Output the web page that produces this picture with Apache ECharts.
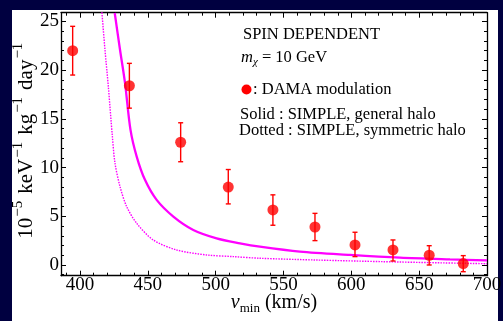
<!DOCTYPE html>
<html>
<head>
<meta charset="utf-8">
<script src="https://cdn.jsdelivr.net/npm/echarts@6/dist/echarts.min.js"></script>
<style>html,body{margin:0;padding:0;background:#000040;}#c{width:503px;height:321px;}</style>
</head>
<body>
<div id="c"></div>
<script>
// DAMA modulation points
const damaV = [394.6, 436.4, 474.2, 509.3, 542.2, 573.2, 602.7, 630.7, 657.4, 682.5];
const damaRate = [22.0, 18.4, 12.6, 8.0, 5.65, 3.9, 2.06, 1.54, 1.0, 0.15];
const damaHi = [24.5, 20.7, 14.6, 9.8, 7.2, 5.3, 3.36, 2.57, 1.98, 0.96];
const damaLo = [19.5, 16.1, 10.6, 6.27, 4.08, 2.5, 0.86, 0.41, 0.0, -0.69];

// SIMPLE, general halo (solid)
const solidV = [425.6, 429.5, 433.2, 437.2, 441.8, 447.9, 456.5, 468.8, 483.5, 500.7, 517.9, 532.6, 562.1, 599, 635.8, 672.7, 700];
const solidRate = [25.87, 22.1, 18.67, 13.9, 11.13, 8.74, 6.68, 4.97, 3.6, 2.74, 2.23, 1.88, 1.37, 1.03, 0.75, 0.58, 0.48];

// SIMPLE, symmetric halo (dotted)
const dotV = [416, 418.4, 420.9, 423.8, 425.8, 429.5, 434.4, 441.8, 454, 471.3, 493.4, 513, 532.6, 574.4, 623.5, 700];
const dotRate = [26.2, 22.1, 18.3, 13.3, 10.45, 8.05, 6.0, 4.28, 2.57, 1.54, 1.03, 0.86, 0.69, 0.51, 0.34, 0.13];

// ticks
const xMajor = [400, 450, 500, 550, 600, 650, 700];
const xMinor = [390, 400, 410, 420, 430, 440, 450, 460, 470, 480, 490, 500, 510, 520, 530, 540, 550, 560, 570, 580, 590, 600, 610, 620, 630, 640, 650, 660, 670, 680, 690, 700];
const yMajor = [0, 5, 10, 15, 20, 25];
const yMinor = [-1, 0, 1, 2, 3, 4, 5, 6, 7, 8, 9, 10, 11, 12, 13, 14, 15, 16, 17, 18, 19, 20, 21, 22, 23, 24, 25];

const FONT = "'Liberation Serif', 'Times New Roman', serif";
const X_MIN = 386, X_MAX = 700, Y_MIN = -1.1, Y_MAX = 25.9;

const chart = echarts.init(document.getElementById('c'), null, {renderer: 'canvas'});

function xAx(pos, values, len, showLine, showLabel) {
  return {
    type: 'value', position: pos, min: X_MIN, max: X_MAX, gridIndex: 0,
    axisLine: {show: showLine, onZero: false, lineStyle: {color: '#000', width: 1.3}},
    axisTick: {show: true, inside: true, length: len, customValues: values, lineStyle: {color: '#000', width: 1}},
    axisLabel: {show: showLabel, customValues: values, color: '#000', fontFamily: FONT, fontSize: 19, margin: 0, hideOverlap: false},
    splitLine: {show: false}
  };
}
function yAx(pos, values, len, showLine, showLabel) {
  return {
    type: 'value', position: pos, min: Y_MIN, max: Y_MAX, gridIndex: 0,
    axisLine: {show: showLine, onZero: false, lineStyle: {color: '#000', width: 1.3}},
    axisTick: {show: true, inside: true, length: len, customValues: values, lineStyle: {color: '#000', width: 1}},
    axisLabel: {show: showLabel, customValues: values, color: '#000', fontFamily: FONT, fontSize: 19, margin: 2, hideOverlap: false},
    splitLine: {show: false}
  };
}

const xMain = xAx('bottom', xMajor, 5, true, true);
xMain.name = '{v|v}{sub|min}{n| (km/s)}';
xMain.nameLocation = 'middle';
xMain.nameGap = 15;
xMain.nameMoveOverlap = false;
xMain.nameTextStyle = {
  color: '#000', fontFamily: FONT, fontSize: 20,
  rich: {
    v: {fontFamily: FONT, fontSize: 20, fontStyle: 'italic', lineHeight: 24, color: '#000'},
    sub: {fontFamily: FONT, fontSize: 13, lineHeight: 12, verticalAlign: 'bottom', color: '#000'},
    n: {fontFamily: FONT, fontSize: 20, lineHeight: 24, color: '#000'}
  }
};

const yMain = yAx('left', yMajor, 5, true, true);
yMain.name = '{a|10}{s|−5}{a|keV}{s|−1}{a|kg}{s|−1}{a|day}{s|−1}';
yMain.nameLocation = 'middle';
yMain.nameRotate = 90;
yMain.nameGap = 20;
yMain.nameMoveOverlap = false;
yMain.nameTextStyle = {
  color: '#000', fontFamily: FONT, fontSize: 21,
  rich: {
    a: {fontFamily: FONT, fontSize: 21, lineHeight: 30, color: '#000', padding: [0, 0, 0, 7]},
    s: {fontFamily: FONT, fontSize: 15, lineHeight: 14, verticalAlign: 'top', color: '#000', padding: [0, 0, 0, 1]}
  }
};

const errData = damaV.map((v, i) => [v, damaLo[i], damaHi[i]]);

const option = {
  backgroundColor: '#000040',
  animation: false,
  grid: {left: 61, right: 16, top: 12.7, bottom: 45.3, containLabel: false, outerBoundsMode: 'none'},
  xAxis: [
    xMain,
    xAx('bottom', xMinor, 3, false, false),
    xAx('top', xMajor, 5, true, false),
    xAx('top', xMinor, 3, false, false)
  ],
  yAxis: [
    yMain,
    yAx('left', yMinor, 3, false, false),
    yAx('right', yMajor, 5, true, false),
    yAx('right', yMinor, 3, false, false)
  ],
  graphic: [
    {type: 'rect', z: -10, silent: true, shape: {x: 12, y: 10, width: 486, height: 311}, style: {fill: '#ffffff'}},
    {type: 'text', x: 243, y: 35, style: {text: 'SPIN DEPENDENT', font: "16.5px 'Liberation Serif', serif", fill: '#000', verticalAlign: 'middle'}},
    {type: 'text', x: 241, y: 58, style: {
      text: '{m|m}{c|χ}{t| = 10 GeV}', fill: '#000', verticalAlign: 'middle',
      rich: {
        m: {fontFamily: FONT, fontSize: 16.5, fontStyle: 'italic', lineHeight: 20, fill: '#000'},
        c: {fontFamily: FONT, fontSize: 11, fontStyle: 'italic', lineHeight: 10, verticalAlign: 'bottom', fill: '#000'},
        t: {fontFamily: FONT, fontSize: 16.5, lineHeight: 20, fill: '#000'}
      }}},
    {type: 'circle', shape: {cx: 246.5, cy: 89.5, r: 5}, style: {fill: '#ff0000'}},
    {type: 'text', x: 253, y: 89.5, style: {text: ': DAMA modulation', font: "16.5px 'Liberation Serif', serif", fill: '#000', verticalAlign: 'middle'}},
    {type: 'text', x: 240, y: 115, style: {text: 'Solid : SIMPLE, general halo', font: "16.5px 'Liberation Serif', serif", fill: '#000', verticalAlign: 'middle'}},
    {type: 'text', x: 239, y: 131, style: {text: 'Dotted : SIMPLE, symmetric halo', font: "16.5px 'Liberation Serif', serif", fill: '#000', verticalAlign: 'middle'}}
  ],
  series: [
    {
      type: 'line', name: 'symmetric', xAxisIndex: 0, yAxisIndex: 0,
      data: dotV.map((v, i) => [v, dotRate[i]]),
      showSymbol: false, smooth: 0.3, clip: true, z: 2,
      lineStyle: {color: '#ff00ff', width: 1.4, type: [1.5, 1.2]}
    },
    {
      type: 'line', name: 'general', xAxisIndex: 0, yAxisIndex: 0,
      data: solidV.map((v, i) => [v, solidRate[i]]),
      showSymbol: false, smooth: 0.3, clip: true, z: 3,
      lineStyle: {color: '#ff00ff', width: 2.3}
    },
    {
      type: 'custom', name: 'err', xAxisIndex: 0, yAxisIndex: 0, z: 4,
      data: errData,
      encode: {x: 0, y: [1, 2]},
      renderItem: function (params, api) {
        const x = api.value(0);
        const pLo = api.coord([x, api.value(1)]);
        const pHi = api.coord([x, api.value(2)]);
        const w = 2.5;
        const st = {stroke: '#ff0000', lineWidth: 1.4};
        return {type: 'group', children: [
          {type: 'line', shape: {x1: pLo[0], y1: pLo[1], x2: pHi[0], y2: pHi[1]}, style: st},
          {type: 'line', shape: {x1: pHi[0] - w, y1: pHi[1], x2: pHi[0] + w, y2: pHi[1]}, style: st},
          {type: 'line', shape: {x1: pLo[0] - w, y1: pLo[1], x2: pLo[0] + w, y2: pLo[1]}, style: st}
        ]};
      }
    },
    {
      type: 'scatter', name: 'DAMA', xAxisIndex: 0, yAxisIndex: 0, z: 5,
      data: damaV.map((v, i) => [v, damaRate[i]]),
      symbol: 'circle', symbolSize: 11,
      itemStyle: {color: '#ff0000'}
    }
  ]
};
chart.setOption(option);
</script>
</body>
</html>
